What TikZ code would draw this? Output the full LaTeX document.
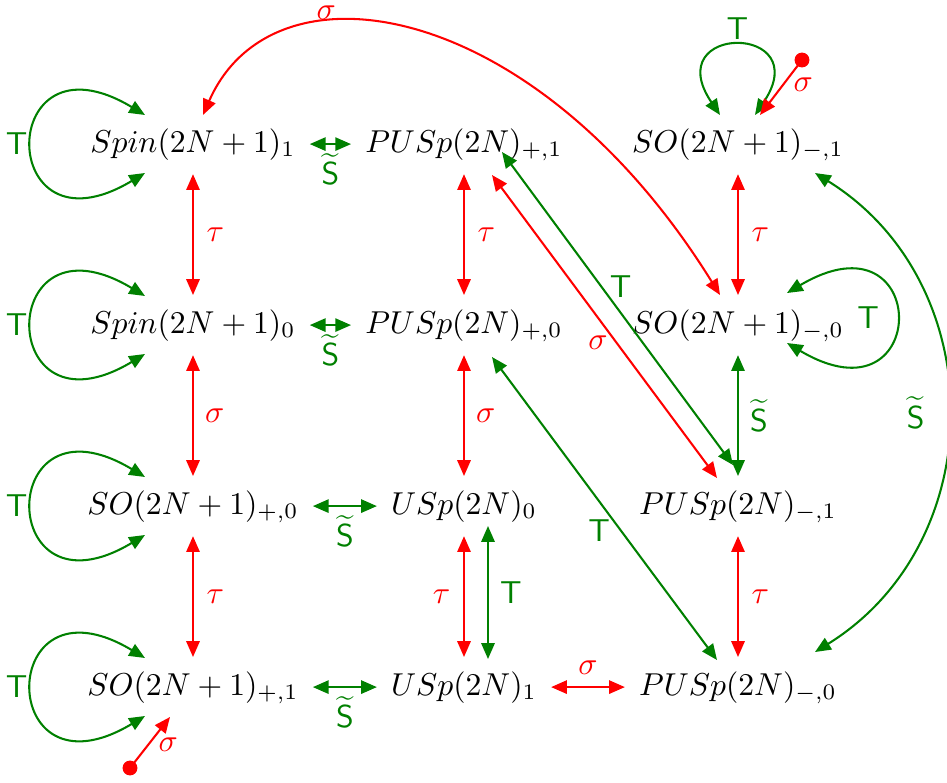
\documentclass[tikz,border=0pt]{standalone}
\usetikzlibrary{arrows.meta,calc}
\definecolor{grn}{RGB}{0,128,0}
\tikzset{
  grp/.style={anchor=base, text height=7.5pt, text depth=2.5pt, inner sep=4.3pt},
  >={Triangle[length=5pt,width=4.2pt]},
  rd/.style={color=red, line width=0.65pt, <->},
  gn/.style={color=grn, line width=0.65pt, <->},
  lab/.style={inner sep=0pt},
  pin/.style={circle, fill=red, inner sep=0pt, minimum size=4.7pt}
}
\begin{document}
\begin{tikzpicture}[x=0.316pt,y=-0.316pt]
\useasboundingbox (0,0) rectangle (947,783);
\clip (0,0) rectangle (947,783);
% nodes
\node[grp] (A1) at (193,152) {$Spin(2N+1)_1$};
\node[grp] (A2) at (193,333) {$Spin(2N+1)_0$};
\node[grp] (A3) at (193,514) {$SO(2N+1)_{+,0}$};
\node[grp] (A4) at (193,695) {$SO(2N+1)_{+,1}$};
\node[grp] (B1) at (464,152) {$PUSp(2N)_{+,1}$};
\node[grp] (B2) at (464,333) {$PUSp(2N)_{+,0}$};
\node[grp] (B3) at (464,514) {$USp(2N)_0$};
\node[grp] (B4) at (464,695) {$USp(2N)_1$};
\node[grp] (C1) at (738,152) {$SO(2N+1)_{-,1}$};
\node[grp] (C2) at (738,333) {$SO(2N+1)_{-,0}$};
\node[grp] (C3) at (738,514) {$PUSp(2N)_{-,1}$};
\node[grp] (C4) at (738,695) {$PUSp(2N)_{-,0}$};
% horizontal
\draw[gn] (A1) -- node[lab,below=2.6pt]{$\widetilde{\mathsf{S}}$} (B1);
\draw[gn] (A2) -- node[lab,below=2.6pt]{$\widetilde{\mathsf{S}}$} (B2);
\draw[gn] (A3) -- node[lab,below=2.6pt]{$\widetilde{\mathsf{S}}$} (B3);
\draw[gn] (A4) -- node[lab,below=2.6pt]{$\widetilde{\mathsf{S}}$} (B4);
\draw[rd] (B4) -- node[lab,above=3.5pt]{$\sigma$} (C4);
% vertical
\draw[rd] (A1) -- node[lab,right=4pt]{$\tau$} (A2);
\draw[rd] (A2) -- node[lab,right=3.5pt]{$\sigma$} (A3);
\draw[rd] (A3) -- node[lab,right=4pt]{$\tau$} (A4);
\draw[rd] (B1) -- node[lab,right=4pt]{$\tau$} (B2);
\draw[rd] (B2) -- node[lab,right=3.5pt]{$\sigma$} (B3);
\draw[rd] (B3) -- node[lab,left=4pt]{$\tau$} (B4);
\draw[gn] ($(B3.base)+(24,12)$) -- node[lab,right=3.5pt]{$\mathsf{T}$} ($(B4.base)+(24,-36)$);
\draw[rd] (C1) -- node[lab,right=4pt]{$\tau$} (C2);
\draw[gn] (C2) -- node[lab,right=3.5pt]{$\widetilde{\mathsf{S}}$} (C3);
\draw[rd] (C3) -- node[lab,right=4pt]{$\tau$} (C4);
% diagonals
\draw[rd] ($(B1.base)+(28,23)$) -- node[lab,pos=0.554,left=2.5pt]{$\sigma$} ($(C3.base)+(-21,-36)$);
\draw[gn] ($(B1.base)+(38,0)$) -- node[lab,pos=0.431,right=2.3pt]{$\mathsf{T}$} ($(C3.base)+(-5,-49)$);
\draw[gn] ($(B2.base)+(28,24)$) -- node[lab,pos=0.571,left=3pt]{$\mathsf{T}$} ($(C4.base)+(-21,-35)$);
% curves
\draw[rd] ($(A1.base)+(10,-37)$) .. controls +(71,-162) and +(-183,-295) .. node[lab,pos=0.33,above=1.2pt]{$\sigma$} ($(C2.base)+(-18,-38)$);
\draw[gn] ($(C1.base)+(77,21)$) .. controls +(177,110) and +(177,-110) .. node[lab,left=7pt]{$\widetilde{\mathsf{S}}$} ($(C4.base)+(77,-43)$);
% loops
\foreach \n in {A1,A2,A3,A4}{
  \draw[gn] ($(\n.base)+(-48,-37)$) .. controls +(-150,-90) and +(-150,90) .. node[lab,left=1.3pt]{$\mathsf{T}$} ($(\n.base)+(-48,21)$);
}
\draw[gn] ($(C1.base)+(-18,-37)$) .. controls +(-62,-92) and +(62,-92) .. node[lab,above=1.6pt]{$\mathsf{T}$} ($(C1.base)+(17,-37)$);
\draw[gn] ($(C2.base)+(49,-40)$) .. controls +(145,-86) and +(145,86) .. node[lab,left=5pt]{$\mathsf{T}$} ($(C2.base)+(49,10)$);
% pins
\node[pin] (pC) at (802,60) {};
\draw[color=red, line width=0.65pt, ->] (pC.center) -- node[lab,pos=0.45,right=3pt]{$\sigma$} ($(C1.base)+(22,-37)$);
\node[pin] (pA) at (130,768) {};
\draw[color=red, line width=0.65pt, ->] (pA.center) -- node[lab,pos=0.45,right=3pt]{$\sigma$} ($(A4.base)+(-23,22)$);
\end{tikzpicture}
\end{document}
